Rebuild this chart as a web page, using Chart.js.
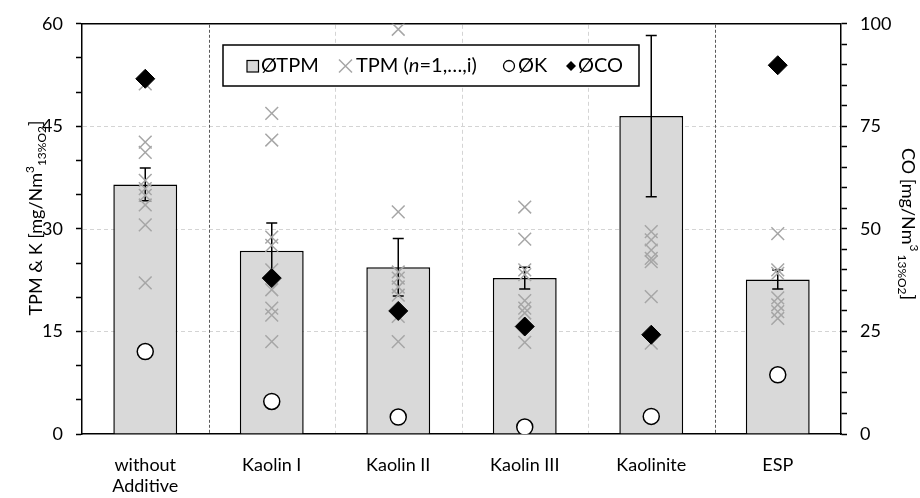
<!DOCTYPE html>
<html><head><meta charset="utf-8">
<script src="https://cdn.jsdelivr.net/npm/chart.js@4.4.0/dist/chart.umd.min.js"></script>
<style>html,body{margin:0;padding:0;background:#fff;}#wrap{width:920px;height:498px;}</style>
</head><body><div id="wrap"><canvas id="c" width="920" height="498"></canvas></div>
<script>
// ---- data ----
const categories = ['without Additive', 'Kaolin I', 'Kaolin II', 'Kaolin III', 'Kaolinite', 'ESP'];
const tpmMean = [36.5, 26.8, 24.4, 22.8, 46.5, 22.6];
const tpmErr  = [2.4, 4.05, 4.2, 1.6, 11.8, 1.4];
const kMean   = [12.06, 4.76, 2.48, 1.02, 2.57, 8.66];
const coMean  = [86.6, 38.0, 30.0, 26.2, 24.2, 89.9];
const tpmRunsWithout   = [51.2, 42.7, 41.2, 37.1, 35.9, 34.9, 33.5, 30.6, 22.1];
const tpmRunsKaolinI   = [46.9, 43.0, 28.8, 27.6, 24.0, 21.1, 18.4, 17.4, 13.5];
const tpmRunsKaolinII  = [59.2, 32.5, 23.7, 22.8, 21.5, 20.3, 17.2, 13.5];
const tpmRunsKaolinIII = [33.2, 28.5, 24.0, 23.3, 19.5, 18.4, 17.7, 13.4];
const tpmRunsKaolinite = [29.6, 28.4, 26.9, 25.7, 25.2, 20.1, 13.3];
const tpmRunsESP       = [29.3, 24.0, 23.5, 19.9, 18.9, 17.9, 16.9];
const leftTicks  = [0, 15, 30, 45, 60];
const rightTicks = [0, 25, 50, 75, 100];

const tpmRuns = [tpmRunsWithout, tpmRunsKaolinI, tpmRunsKaolinII, tpmRunsKaolinIII, tpmRunsKaolinite, tpmRunsESP];
const crossPoints = [];
tpmRuns.forEach((runs, i) => runs.forEach(v => crossPoints.push({x: categories[i], y: v})));

const FONT = 'Lato';
const TXT = '#000';

// error bars
const errorBars = {
  id: 'errorBars',
  afterDatasetDraw(chart, args) {
    if (args.index !== 0) return;
    const ctx = chart.ctx, x = chart.scales.x, y = chart.scales.y;
    ctx.save();
    ctx.strokeStyle = '#000'; ctx.lineWidth = 1.5;
    tpmMean.forEach((m, i) => {
      const px = x.getPixelForValue(i);
      const top = y.getPixelForValue(m + tpmErr[i]);
      const bot = y.getPixelForValue(m - tpmErr[i]);
      ctx.beginPath();
      ctx.moveTo(px, top); ctx.lineTo(px, bot);
      ctx.moveTo(px - 5.5, top); ctx.lineTo(px + 5.5, top);
      ctx.moveTo(px - 5.5, bot); ctx.lineTo(px + 5.5, bot);
      ctx.stroke();
    });
    ctx.restore();
  }
};

// gridlines + top frame
const grids = {
  id: 'grids',
  beforeDatasetsDraw(chart) {
    const ctx = chart.ctx, a = chart.chartArea, x = chart.scales.x, y = chart.scales.y;
    ctx.save();
    ctx.lineWidth = 1;
    ctx.strokeStyle = '#d4d4d4';
    ctx.setLineDash([4, 3]);
    leftTicks.forEach(v => {
      if (v === 0 || v === 60) return;
      const py = Math.round(y.getPixelForValue(v)) + 0.5;
      ctx.beginPath(); ctx.moveTo(a.left + 1, py); ctx.lineTo(a.right - 1, py); ctx.stroke();
    });
    for (let i = 0; i < categories.length - 1; i++) {
      const px = Math.round((x.getPixelForValue(i) + x.getPixelForValue(i + 1)) / 2) + 0.5;
      const dark = (i === 0 || i === 4);
      ctx.strokeStyle = dark ? '#595959' : '#d4d4d4';
      ctx.setLineDash(dark ? [3, 2] : [4, 3]);
      ctx.beginPath(); ctx.moveTo(px, a.top + 1); ctx.lineTo(px, a.bottom - 1); ctx.stroke();
    }
    ctx.setLineDash([]);
    ctx.strokeStyle = '#000'; ctx.lineWidth = 1.5;
    ctx.beginPath(); ctx.moveTo(a.left, a.top); ctx.lineTo(a.right, a.top); ctx.stroke();
    ctx.restore();
  }
};

function richText(ctx, parts, cx, cy, angle) {
  let total = 0;
  parts.forEach(p => { ctx.font = (p.italic ? 'italic ' : '') + p.size + 'px ' + FONT; p.w = ctx.measureText(p.t).width; total += p.w; });
  ctx.save();
  ctx.translate(cx, cy); ctx.rotate(angle);
  ctx.fillStyle = TXT; ctx.textBaseline = 'alphabetic'; ctx.textAlign = 'left';
  let xx = -total / 2;
  parts.forEach(p => { ctx.font = (p.italic ? 'italic ' : '') + p.size + 'px ' + FONT; ctx.fillText(p.t, xx, p.dy || 0); xx += p.w; });
  ctx.restore();
}

const overlay = {
  id: 'overlay',
  afterDraw(chart) {
    const ctx = chart.ctx;
    // axis titles
    richText(ctx, [
      {t: 'TPM & K [mg/Nm', size: 18}, {t: '3', size: 12, dy: -8}, {t: '13%O2', size: 12, dy: 4}, {t: ']', size: 18}
    ], 42, 218, -Math.PI / 2);
    richText(ctx, [
      {t: 'CO [mg/Nm', size: 18}, {t: '3', size: 12, dy: -8}, {t: ' 13%O2', size: 12, dy: 4}, {t: ']', size: 18}
    ], 902, 224, Math.PI / 2);
    // legend
    ctx.save();
    ctx.fillStyle = '#fff'; ctx.strokeStyle = '#000'; ctx.lineWidth = 1.5;
    ctx.fillRect(223, 45, 416, 41); ctx.strokeRect(223, 45, 416, 41);
    const cy = 66;
    ctx.fillStyle = '#d9d9d9'; ctx.lineWidth = 1.2;
    ctx.fillRect(247, 60.5, 11.5, 11.5); ctx.strokeRect(247, 60.5, 11.5, 11.5);
    ctx.strokeStyle = '#a6a6a6'; ctx.lineWidth = 1.5;
    ctx.beginPath();
    ctx.moveTo(339, cy - 6.5); ctx.lineTo(352, cy + 6.5);
    ctx.moveTo(352, cy - 6.5); ctx.lineTo(339, cy + 6.5); ctx.stroke();
    ctx.fillStyle = '#fff'; ctx.strokeStyle = '#000'; ctx.lineWidth = 1.3;
    ctx.beginPath(); ctx.arc(509, cy, 5.5, 0, Math.PI * 2); ctx.fill(); ctx.stroke();
    ctx.fillStyle = '#000';
    ctx.beginPath(); ctx.moveTo(571, cy - 5); ctx.lineTo(576, cy); ctx.lineTo(571, cy + 5); ctx.lineTo(566, cy); ctx.closePath(); ctx.fill();
    ctx.fillStyle = TXT; ctx.textBaseline = 'middle'; ctx.textAlign = 'left';
    ctx.font = '20px ' + FONT;
    ctx.fillText('ØTPM', 261, cy);
    let xx = 356;
    const seg = [['TPM (', ''], ['n', 'italic '], ['=1,…,i)', '']];
    seg.forEach(s => { ctx.font = s[1] + '20px ' + FONT; ctx.fillText(s[0], xx, cy); xx += ctx.measureText(s[0]).width; });
    ctx.font = '20px ' + FONT;
    ctx.fillText('ØK', 518, cy);
    ctx.fillText('ØCO', 578, cy);
    ctx.restore();
  }
};

new Chart(document.getElementById('c'), {
  data: {
    labels: categories,
    datasets: [
      {type: 'bar', label: 'ØTPM', data: tpmMean, yAxisID: 'y', backgroundColor: '#d9d9d9', borderColor: '#000', borderWidth: 1.5,
       categoryPercentage: 1, barPercentage: 0.505, order: 4},
      {type: 'line', label: 'TPM (n=1,…,i)', data: crossPoints, yAxisID: 'y', showLine: false, pointStyle: 'crossRot',
       pointRadius: 9, pointBorderWidth: 1.5, borderColor: '#a6a6a6', backgroundColor: '#a6a6a6', order: 3},
      {type: 'line', label: 'ØK', data: kMean, yAxisID: 'y', showLine: false, pointStyle: 'circle',
       pointRadius: 8, pointBorderWidth: 1.5, borderColor: '#000', backgroundColor: '#fff', order: 2},
      {type: 'line', label: 'ØCO', data: coMean, yAxisID: 'y2', showLine: false, pointStyle: 'rectRot',
       pointRadius: 9.5, pointBorderWidth: 1, borderColor: '#000', backgroundColor: '#000', order: 1}
    ]
  },
  options: {
    responsive: false, animation: false, events: [],
    layout: {padding: {top: 23, left: 0, right: 0, bottom: 0}},
    plugins: {legend: {display: false}, tooltip: {enabled: false}},
    scales: {
      x: {
        type: 'category', offset: true,
        grid: {display: false, drawTicks: false},
        border: {display: true, color: '#000', width: 1.5},
        ticks: {padding: 20, color: TXT, font: {family: FONT, size: 18}, autoSkip: false, maxRotation: 0,
          callback: (v, i) => i === 0 ? ['without', 'Additive'] : categories[i]},
        afterFit: s => { s.height = 64; }
      },
      y: {
        position: 'left', min: 0, max: 60,
        grid: {drawOnChartArea: false, drawTicks: true, tickLength: 6, tickColor: '#000', tickWidth: 1.5},
        border: {display: true, color: '#000', width: 1.5},
        ticks: {stepSize: 5, autoSkip: false, padding: 13, color: TXT, font: {family: FONT, size: 18},
          callback: v => leftTicks.includes(v) ? String(v) : ''},
        afterFit: s => { s.width = 82; }
      },
      y2: {
        position: 'right', min: 0, max: 100,
        grid: {drawOnChartArea: false, drawTicks: true, tickLength: 6, tickColor: '#000', tickWidth: 1.5},
        border: {display: true, color: '#000', width: 1.5},
        ticks: {stepSize: 5, autoSkip: false, padding: 13, color: TXT, font: {family: FONT, size: 18},
          callback: v => rightTicks.includes(v) ? String(v) : ''},
        afterFit: s => { s.width = 79; }
      }
    }
  },
  plugins: [grids, errorBars, overlay]
});
</script></body></html>
